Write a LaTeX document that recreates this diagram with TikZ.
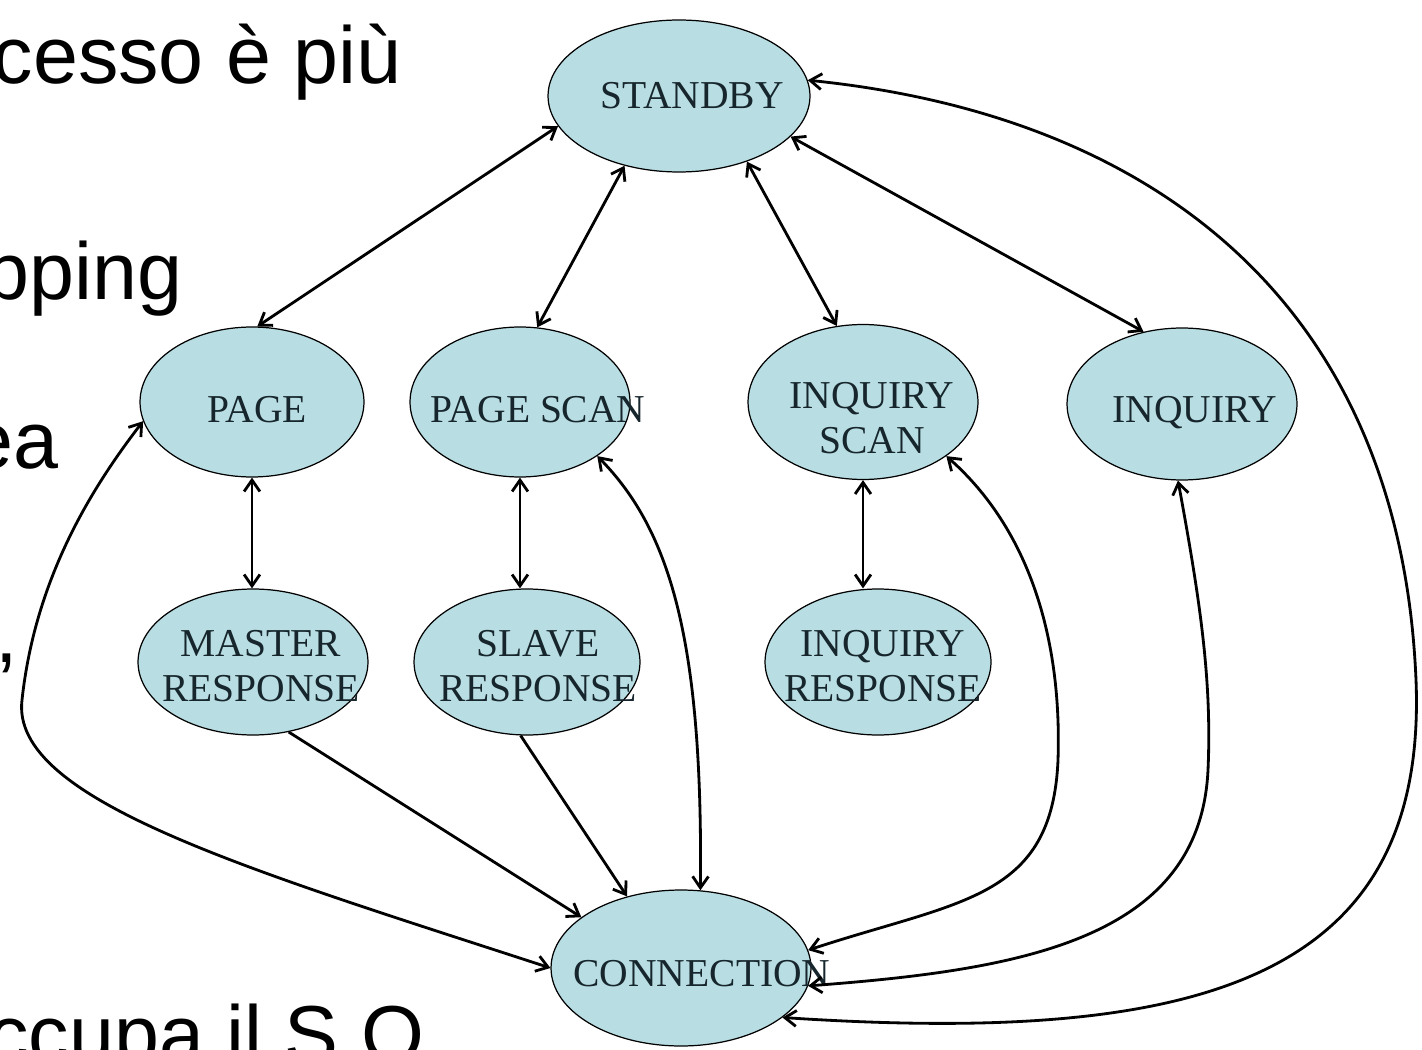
\documentclass[tikz,border=0pt]{standalone}
\usepackage{fontspec}
\setmainfont{Liberation Serif}
\newfontfamily\slidefont{Liberation Sans}
\usetikzlibrary{arrows.meta,shapes.geometric}
\definecolor{stateblue}{RGB}{184,222,228}
\definecolor{statetext}{RGB}{22,38,44}
\tikzset{
	state/.style={ellipse, draw=black, line width=0.7pt, fill=stateblue, inner sep=0pt},
	every label/.style={text=statetext, align=center, inner sep=0pt, font=\fontsize{22.5}{25.5}\selectfont},
	link/.style={line width=1.6pt},
	slide/.style={anchor=base east, inner sep=0pt, font=\slidefont\fontsize{46}{54}\selectfont}
}

\begin{document}
\begin{tikzpicture}[x=0.02cm, y=-0.02cm, >={Straight Barb[length=6.5pt,width=9pt]}]
			%%%%% START %%%%%
			\clip (0, 0) rectangle (1422, 1050);
			
			% slide text, cut at the left
			\node[slide] (line1) at (402, 84) {cesso è più};
			\node[slide] (line2) at (183, 300) {pping};
			\node[slide] (line3) at (59, 468) {ea};
			\node[slide] (line4) at (18, 662) {,};
			\node[slide] (line5) at (447, 1062) {ccupa il S.O.};
			
			% states
			\node[state, minimum width=5.24cm, minimum height=3.04cm, label={[xshift=0.26cm]center:STANDBY}] (standby) at (679, 96) {};
			
			\node[state, minimum width=4.48cm, minimum height=3.0cm, label={[xshift=0.1cm, yshift=-0.16cm]center:PAGE}] (page) at (252, 402) {};
			\node[state, minimum width=4.4cm, minimum height=3.0cm, label={[xshift=0.36cm, yshift=-0.16cm]center:PAGE SCAN}] (pagescan) at (520, 402) {};
			\node[state, minimum width=4.6cm, minimum height=3.1cm, label={[xshift=0.18cm, yshift=-0.32cm]center:INQUIRY\\SCAN}] (inqscan) at (863, 402) {};
			\node[state, minimum width=4.6cm, minimum height=3.04cm, label={[xshift=0.26cm, yshift=-0.18cm]center:INQUIRY}] (inquiry) at (1182, 404) {};
			
			\node[state, minimum width=4.6cm, minimum height=2.92cm, label={[xshift=0.16cm, yshift=-0.08cm]center:MASTER\\RESPONSE}] (master) at (253, 662) {};
			\node[state, minimum width=4.52cm, minimum height=2.92cm, label={[xshift=0.22cm, yshift=-0.08cm]center:SLAVE\\RESPONSE}] (slave) at (527, 662) {};
			\node[state, minimum width=4.52cm, minimum height=2.92cm, label={[xshift=0.1cm, yshift=-0.08cm]center:INQUIRY\\RESPONSE}] (inqresp) at (878, 662) {};
			
			\node[state, minimum width=5.2cm, minimum height=3.12cm, label={[xshift=0.42cm, yshift=-0.12cm]center:CONNECTION}] (connection) at (681, 968) {};
			
			% standby to the four states below it
			\draw[link, <->] (standby.194) -- (page.86);
			\draw[link, <->] (standby.232) -- (pagescan.77);
			\draw[link, <->] (standby.316) -- (inqscan.109);
			\draw[link, <->] (standby.340) -- (inquiry.118);
			
			% responses
			\draw[link, <->] (page.south) -- (page.south |- master.north);
			\draw[link, <->] (pagescan.south) -- (pagescan.south |- slave.north);
			\draw[link, <->] (inqscan.south) -- (inqscan.south |- inqresp.north);
			\draw[link, ->] (master.297) -- (connection.153);
			\draw[link, ->] (slave.265) -- (connection.127);
			
			% long ways into connection
			\draw[link, <->] (pagescan.325) .. controls (670, 530) and (703, 640) .. (connection.76);
			\draw[link, <->] (inqscan.327) .. controls (1030, 530) and (1062, 640) .. (1058, 760) .. controls (1052, 900) and (960, 900) .. (connection.8);
			\draw[link, <->] (inquiry.267) .. controls (1200, 600) and (1212, 680) .. (1208, 770) .. controls (1200, 940) and (1020, 970) .. (connection.352);
			\draw[link, <->] (standby.7) .. controls (1150, 115) and (1400, 300) .. (1416, 680) .. controls (1428, 980) and (1200, 1045) .. (connection.334);
			\draw[link, <->] (connection.180) .. controls (250, 870) and (10, 800) .. (22, 700) .. controls (35, 580) and (90, 490) .. (page.190);
			
			%%%%% END %%%%%
\end{tikzpicture}
\end{document}
